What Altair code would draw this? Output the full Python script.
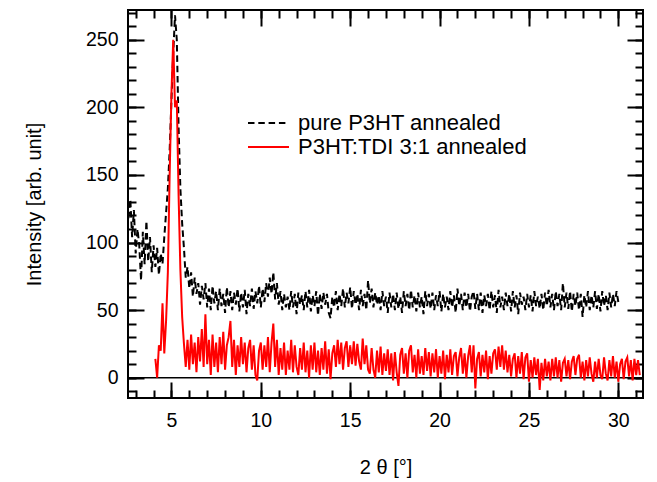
import altair as alt
import pandas as pd

FONT = "Liberation Sans"

# ---- axis ranges / ticks ----
X_DOMAIN = [2.57, 31.38]
Y_DOMAIN = [-15, 272]
x_major = [5, 10, 15, 20, 25, 30]
x_minor = list(range(3, 32))
y_major = [0, 50, 100, 150, 200, 250]
y_minor = list(range(-10, 271, 10))
zero_line = [0]

# ---- series ----
series_names = ["pure P3HT annealed", "P3HT:TDI 3:1 annealed"]
series_colors = ["#000000", "#ff0000"]
series_dash = [[6.5, 3.8], [1, 0]]

step = 0.1
black_start = 2.6
black_y = [
    118, 132, 104, 124, 92, 110, 98, 72, 108, 84,
    116, 86, 104, 78, 98, 82, 96, 76, 92, 84,
    104, 122, 140, 168, 205, 240, 268, 250, 185, 140,
    114, 96, 74, 82, 66, 78, 60, 74, 62, 70,
    54, 68, 58, 70, 52, 66, 50, 68, 55, 64,
    50, 66, 53, 62, 48, 67, 52, 64, 50, 63,
    54, 66, 49, 63, 52, 65, 47, 62, 53, 66,
    51, 64, 55, 68, 52, 66, 56, 70, 60, 74,
    62, 78, 58, 70, 54, 64, 50, 62, 52, 60,
    50, 64, 52, 62, 47, 63, 54, 61, 50, 64,
    52, 65, 49, 61, 53, 64, 46, 62, 51, 63,
    54, 62, 48, 44, 60, 52, 64, 50, 62, 53,
    66, 52, 63, 55, 67, 51, 64, 54, 62, 50,
    65, 53, 62, 50, 72, 55, 66, 52, 63, 54,
    61, 50, 64, 53, 60, 48, 63, 52, 62, 50,
    63, 51, 60, 48, 64, 53, 62, 50, 65, 52,
    61, 49, 63, 52, 60, 47, 64, 53, 62, 51,
    63, 50, 61, 53, 64, 49, 62, 52, 60, 50,
    64, 52, 61, 48, 66, 53, 62, 50, 63, 52,
    62, 49, 60, 64, 51, 62, 50, 63, 48, 61,
    53, 62, 50, 64, 52, 61, 48, 65, 52, 60,
    50, 63, 53, 62, 49, 64, 52, 61, 47, 63,
    54, 60, 50, 62, 52, 61, 49, 64, 53, 60,
    51, 62, 50, 63, 53, 65, 52, 62, 50, 64,
    53, 62, 50, 70, 52, 63, 51, 64, 49, 62,
    53, 63, 50, 62, 45, 61, 52, 64, 50, 61,
    52, 64, 51, 62, 49, 64, 53, 61, 50, 63,
    52, 62, 53, 64, 56,
]

red_start = 4.1
red_y = [
    14, 0, 24, 20, 55, 18, 42, 78, 150, 210,
    250, 200, 205, 135, 80, 45, 25, 8, 28, 6,
    32, 10, 26, 4, 30, 12, 36, 8, 47, 10,
    28, 2, 32, 8, 26, 4, 30, 10, 34, 6,
    24, 30, 42, 8, 28, 2, 24, 8, 30, 10,
    26, 4, 22, 28, 6, 24, 2, -2, 20, 26,
    6, 24, 8, 30, 4, 26, 40, 8, 28, 2,
    22, 6, 26, 2, 20, 6, 28, 4, 24, 8,
    2, 22, 6, 26, 4, 20, 0, 24, 6, 26,
    4, 20, 2, 22, 6, 27, 3, 21, -1, 18,
    24, 8, 28, 10, 26, 6, 22, 27, 8, 24,
    10, 27, 9, 25, 12, 6, 29, 10, 24, 6,
    3, 22, 6, 0, 20, 4, 23, 2, 18, 5,
    21, 2, 18, -2, 19, 4, -6, 17, 22, 3,
    18, 0, 20, 24, 4, 17, 0, 21, 3, 16,
    2, 22, 5, 19, 1, 18, 4, 21, 0, 16,
    3, 20, -1, 17, 4, 21, 2, 16, 19, 1,
    15, 22, 3, 18, 0, 16, 24, 4, 24, -8,
    14, 19, 1, 17, 4, 20, -1, 16, 3, 18,
    21, 6, 23, 8, 24, 6, 20, 4, 17, 1,
    14, 18, 0, 16, 3, 19, -1, 15, 18, -3,
    13, 0, 15, 2, 14, -9, 11, -2, 14, 1,
    12, -2, 14, 1, 15, 0, 13, -3, 11, 14,
    1, 13, -1, 12, 16, 2, 14, 17, 0, 12,
    -2, 13, 1, 15, 3, -3, 12, 0, 14, 2,
    -1, 15, 3, -2, 13, 1, 16, 0, 12, -3,
    10, 14, -1, 12, 15, 1, 13, -2, 14, 2,
    13, 2,
]

rows = []
for i, v in enumerate(black_y):
    rows.append({"x": round(black_start + i * step, 2), "y": v, "series": series_names[0]})
for i, v in enumerate(red_y):
    rows.append({"x": round(red_start + i * step, 2), "y": v, "series": series_names[1]})
df = pd.DataFrame(rows)
zero_df = pd.DataFrame({"y": zero_line})

W, H = 515, 388

xs = alt.Scale(domain=X_DOMAIN, nice=False, zero=False)
ys = alt.Scale(domain=Y_DOMAIN, nice=False, zero=False)

leg = alt.Legend(
    orient="none", legendX=119, legendY=102, title=None,
    labelFont=FONT, labelFontSize=22, labelColor="black", labelLimit=500,
    symbolType="stroke", symbolSize=1681, symbolStrokeWidth=2,
    labelOffset=8, rowPadding=2, padding=0, clipHeight=22,
)

main_x_axis = alt.Axis(
    orient="bottom", values=x_major, ticks=False, tickSize=0, domain=False, grid=False,
    labelPadding=13, labelFont=FONT, labelFontSize=19.5, labelColor="black",
    labelOverlap=False, labelFlush=False,
    title="2 θ [°]", titleFont=FONT, titleFontSize=20, titleFontWeight="normal",
    titleColor="black", titleX=W / 2, titleY=69, titleAlign="center", titleBaseline="middle",
)
main_y_axis = alt.Axis(
    orient="left", values=y_major, ticks=False, tickSize=0, domain=False, grid=False,
    labelPadding=10, labelFont=FONT, labelFontSize=19.5, labelColor="black",
    labelOverlap=False, labelFlush=False,
    title="Intensity [arb. unit]", titleFont=FONT, titleFontSize=20, titleFontWeight="normal",
    titleColor="black", titleX=-94, titleY=H / 2, titleAngle=270,
    titleAlign="center", titleBaseline="middle",
)


def tick_axis(orient, offset, values, size):
    return alt.Axis(
        orient=orient, offset=offset, values=values, tickSize=size, tickWidth=2,
        tickColor="black", labels=False, domain=False, grid=False, title=None,
    )


zero_rule = alt.Chart(zero_df).mark_rule(color="black", strokeWidth=1.5).encode(
    y=alt.Y("y:Q", scale=ys, axis=None)
)

lines = alt.Chart(df).mark_line(clip=True, strokeWidth=2).encode(
    x=alt.X("x:Q", scale=xs, axis=main_x_axis),
    y=alt.Y("y:Q", scale=ys, axis=main_y_axis),
    color=alt.Color("series:N", scale=alt.Scale(domain=series_names, range=series_colors), legend=leg),
    strokeDash=alt.StrokeDash("series:N", scale=alt.Scale(domain=series_names, range=series_dash), legend=leg),
)

tick_specs = [
    (("top", -H, x_major, 16), ("right", -W, y_major, 16)),
    (("top", -H, x_minor, 8), ("right", -W, y_minor, 8)),
    (("bottom", -H, x_major, 16), ("left", -W, y_major, 16)),
    (("bottom", -H, x_minor, 8), ("left", -W, y_minor, 8)),
]
tick_layers = []
for xa, ya in tick_specs:
    tick_layers.append(
        alt.Chart(df).mark_point(opacity=0).encode(
            x=alt.X("x:Q", scale=xs, axis=tick_axis(*xa)),
            y=alt.Y("y:Q", scale=ys, axis=tick_axis(*ya)),
        )
    )

chart = (
    alt.layer(zero_rule, lines, *tick_layers)
    .resolve_axis(x="independent", y="independent")
    .properties(
        width=W, height=H,
        autosize=alt.AutoSizeParams(type="none"),
        padding={"left": 128, "top": 10, "right": 14, "bottom": 84},
        background="white",
    )
    .configure_view(stroke="black", strokeWidth=2)
)

chart.save("out.html", embed_options={"renderer": "svg", "actions": False})
